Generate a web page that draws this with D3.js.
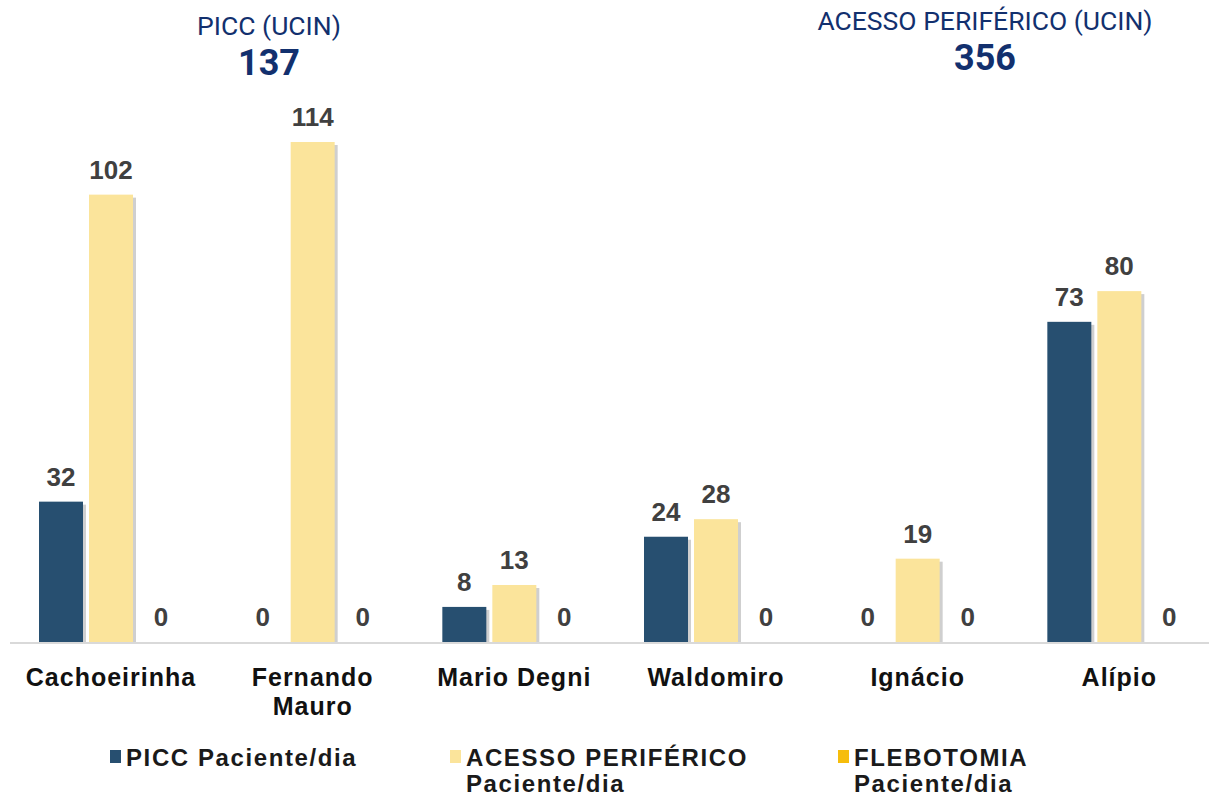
<!DOCTYPE html>
<html>
<head>
<meta charset="utf-8">
<script src="https://cdn.jsdelivr.net/npm/d3@7"></script>
<style>
  body { margin: 0; background: #fff; }
  svg { display: block; }
</style>
</head>
<body>
<div id="chart"></div>
<script>
// Data
const categories = ["Cachoeirinha", "Fernando Mauro", "Mario Degni", "Waldomiro", "Ignácio", "Alípio"];
const seriesNames = ["PICC Paciente/dia", "ACESSO PERIFÉRICO Paciente/dia", "FLEBOTOMIA Paciente/dia"];
const picc = [32, 0, 8, 24, 0, 73];
const acesso = [102, 114, 13, 28, 19, 80];
const flebotomia = [0, 0, 0, 0, 0, 0];
const colors = ["#274f70", "#fbe49b", "#f6bd0c"];
const headers = [
  { title: "PICC (UCIN)", total: 137, x: 269, y: 35 },
  { title: "ACESSO PERIFÉRICO (UCIN)", total: 356, x: 985, y: 30 }
];

const owidth = 1209, oheight = 798;
const svg = d3.select("#chart").append("svg")
  .attr("width", owidth)
  .attr("height", oheight);

// Scales
const baseY = 642;
const x0 = d3.scaleBand()
  .domain(categories)
  .range([11, 1221]);
const x1 = d3.scaleBand()
  .domain(seriesNames)
  .range([25, 175])
  .paddingInner(0.12)
  .paddingOuter(0.06);
const y = d3.scaleLinear()
  .domain([0, 114])
  .range([baseY, 142]);

const rows = categories.map((c, i) => ({
  cat: c,
  vals: [picc[i], acesso[i], flebotomia[i]]
}));

// Header totals
headers.forEach(h => {
  svg.append("text")
    .attr("x", h.x).attr("y", h.y)
    .attr("text-anchor", "middle")
    .attr("font-family", "Roboto")
    .attr("font-size", 26.5)
    .attr("fill", "#12306e")
    .text(h.title);
  svg.append("text")
    .attr("x", h.x).attr("y", h.y + 40)
    .attr("text-anchor", "middle")
    .attr("font-family", "Roboto")
    .attr("font-weight", "bold")
    .attr("font-size", 36)
    .attr("fill", "#12306e")
    .text(h.total);
});

// Axis baseline
svg.append("line")
  .attr("x1", 10).attr("x2", owidth)
  .attr("y1", baseY + 1).attr("y2", baseY + 1)
  .attr("stroke", "#d9d9d9")
  .attr("stroke-width", 2);

// Bars
const groups = svg.selectAll("g.grp")
  .data(rows)
  .join("g")
  .attr("class", "grp")
  .attr("transform", d => `translate(${x0(d.cat)},0)`);

const cells = groups.selectAll("g.cell")
  .data(d => d.vals.map((v, k) => ({ v, k, name: seriesNames[k] })))
  .join("g")
  .attr("class", "cell");

// soft shadow on the right side
cells.filter(d => d.v > 0).append("rect")
  .attr("x", d => x1(d.name) + 3)
  .attr("y", d => y(d.v) + 3)
  .attr("width", x1.bandwidth())
  .attr("height", d => baseY - y(d.v) - 3)
  .attr("fill", "#cfcfcf");

cells.filter(d => d.v > 0).append("rect")
  .attr("x", d => x1(d.name))
  .attr("y", d => y(d.v))
  .attr("width", x1.bandwidth())
  .attr("height", d => baseY - y(d.v))
  .attr("fill", d => colors[d.k]);

// Value labels
cells.append("text")
  .attr("x", d => x1(d.name) + x1.bandwidth() / 2)
  .attr("y", d => y(d.v) - 16)
  .attr("text-anchor", "middle")
  .attr("font-family", "Liberation Sans, Arial")
  .attr("font-weight", "bold")
  .attr("font-size", 26)
  .attr("fill", "#404040")
  .text(d => d.v);

// Category labels
groups.each(function(d) {
  const words = d.cat === "Fernando Mauro" ? ["Fernando", "Mauro"] : [d.cat];
  const cx = x1("ACESSO PERIFÉRICO Paciente/dia") + x1.bandwidth() / 2;
  const t = d3.select(this).append("text")
    .attr("text-anchor", "middle")
    .attr("font-family", "Liberation Sans, Arial")
    .attr("font-weight", "bold")
    .attr("font-size", 25)
    .attr("letter-spacing", 1)
    .attr("fill", "#111");
  words.forEach((w, i) => {
    t.append("tspan")
      .attr("x", cx)
      .attr("y", 686 + i * 29)
      .text(w);
  });
});

// Legend
const legendItems = [
  { lines: ["PICC Paciente/dia"], x: 110 },
  { lines: ["ACESSO PERIFÉRICO", "Paciente/dia"], x: 450 },
  { lines: ["FLEBOTOMIA", "Paciente/dia"], x: 838 }
];
legendItems.forEach((it, i) => {
  svg.append("rect")
    .attr("x", it.x).attr("y", 750)
    .attr("width", 11).attr("height", 13)
    .attr("fill", colors[i]);
  const t = svg.append("text")
    .attr("font-family", "Liberation Sans, Arial")
    .attr("font-weight", "bold")
    .attr("font-size", 24)
    .attr("letter-spacing", 1.6)
    .attr("fill", "#1a1a1a");
  it.lines.forEach((l, j) => {
    t.append("tspan")
      .attr("x", it.x + 16)
      .attr("y", 766 + j * 26)
      .text(l);
  });
});
</script>
</body>
</html>
